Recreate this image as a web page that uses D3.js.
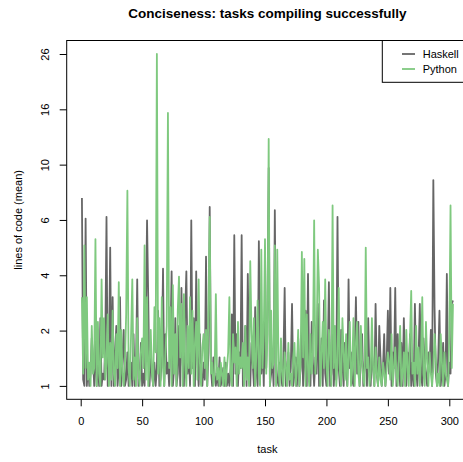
<!DOCTYPE html>
<html>
<head>
<meta charset="utf-8">
<title>Conciseness</title>
<script src="https://cdn.jsdelivr.net/npm/d3@7"></script>
<style>
  body { margin: 0; background: #fff; }
  text { font-family: "Liberation Sans", Arial, sans-serif; fill: #000; }
</style>
</head>
<body>
<svg id="chart" width="463" height="462"></svg>
<script>
// mean lines of code per task, task 1..303
var haskell = [
  7.7, 1.1, 1, 6.4, 1, 1.4, 1, 1.2, 1.9, 1.5,
  1, 2.0, 1, 1.4, 1, 2.4, 1, 1.2, 1.1, 1.8,
  6.5, 1, 1.5, 4.9, 1, 3.0, 1, 1.6, 2.2, 1,
  1.3, 3.0, 1, 1.5, 2.1, 1, 1.1, 1.6, 1, 1.2,
  1.4, 1, 2.0, 1, 1.3, 3.6, 1, 1.1, 1.8, 1,
  1.2, 1, 2.3, 6.3, 2.9, 1, 1.5, 1.2, 1, 1.4,
  1, 1.3, 2.6, 1, 1.1, 1.5, 4.0, 1, 2.0, 1.2,
  1.4, 1, 1.8, 3.9, 1, 1.3, 2.4, 1, 1.2, 2.2,
  1, 3.3, 1.4, 1, 2.5, 3.9, 1.2, 1.6, 1, 6.3,
  1.3, 2.4, 1, 3.9, 1.5, 1, 2.0, 1.2, 1, 1.4,
  1.1, 4.5, 1, 1.6, 7.1, 1.3, 1, 1.5, 1.2, 1,
  1.2, 1, 1.5, 1, 1.1, 1.3, 1, 1.4, 1, 1.2,
  1, 1.3, 2.5, 1, 5.5, 1.2, 2.0, 1, 1.6, 1.3,
  5.5, 1, 1.4, 2.2, 1, 3.8, 1.2, 1, 1.8, 1.4,
  1, 2.7, 1.3, 1, 5.2, 1.5, 1.2, 1.9, 1, 2.6,
  1.3, 2.7, 10.0, 1, 1.2, 1.5, 1, 6.9, 1.4, 1.1,
  1, 1.4, 1.2, 1, 1.5, 3.3, 1, 1.2, 1.6, 1,
  1.3, 2.8, 1, 1.2, 1.5, 1, 1.9, 1, 1.3, 2.2,
  1, 1.4, 2.6, 1, 3.8, 1.2, 1, 2.3, 1.4, 1,
  1.5, 1.2, 2.8, 1, 1.3, 1.9, 1, 2.9, 1.2, 1,
  1.4, 3.5, 1, 1.2, 2.0, 1, 1.5, 1.1, 6.5, 1.3,
  1, 2.1, 1.4, 1, 1.8, 1.2, 1, 3.6, 1.3, 1.6,
  1.1, 1, 1.5, 3.0, 1.2, 2.3, 1, 1.4, 2.0, 1,
  1.3, 1.8, 1, 2.4, 1.2, 1, 1.6, 1.3, 1, 2.8,
  1.2, 1, 2.2, 1.5, 1, 1.3, 2.0, 1, 1.4, 2.6,
  1.2, 3.3, 1, 1.6, 1.3, 3.3, 1, 2.0, 1.4, 1,
  1.8, 1, 2.4, 1.3, 1, 1.6, 1.2, 2.0, 1, 1.4,
  1, 2.8, 1.3, 1, 1.5, 2.8, 1.2, 1, 1.9, 1.4,
  1.2, 1, 1.6, 1.3, 2.1, 1, 9.0, 2.7, 1.2, 1,
  1.5, 2.6, 1, 1.3, 1.8, 1, 1.2, 3.8, 1, 1.4,
  1.2, 2.8, 2.9
];
var python = [
  3.0, 1.2, 5.0, 1.3, 3.0, 1.1, 1.4, 1, 2.2, 1.2,
  1.3, 5.3, 1, 2.3, 1.2, 1, 3.6, 1.5, 2.4, 1.1,
  1.4, 2.5, 1, 1.8, 1.1, 2.6, 1.2, 1, 2.0, 1.3,
  3.5, 1, 2.1, 1.2, 1, 1.4, 2.5, 8.2, 1.3, 1,
  2.0, 3.6, 1.1, 1.5, 1, 2.4, 1.2, 1, 1.6, 1.9,
  1.3, 5.0, 1.1, 3.0, 1, 1.4, 2.1, 1.2, 1, 2.7,
  1.6, 25.8, 1.2, 2.4, 1, 3.0, 1.3, 1, 1.6, 2.2,
  15.9, 1.3, 2.7, 1, 3.4, 1.2, 2.0, 1, 2.6, 3.7,
  1.5, 2.8, 1, 3.1, 1.4, 1, 2.2, 1.3, 3.0, 1.2,
  2.6, 1, 1.8, 2.3, 1.1, 3.6, 1.4, 1, 1.7, 2.0,
  1.3, 2.1, 1, 2.8, 6.5, 1.2, 1.4, 1, 1.2, 3.1,
  1.1, 1.3, 1, 1.4, 1.2, 1, 1.5, 1, 1.3, 1.6,
  3.0, 1.2, 1, 2.0, 1.4, 1.7, 1, 2.3, 1.2, 1.5,
  1.3, 1.8, 1, 2.2, 1.1, 1.5, 1, 4.3, 2.1, 1.3,
  2.4, 1, 1.6, 2.9, 1.2, 1, 4.8, 1.3, 2.0, 5.3,
  1.2, 2.0, 12.8, 1, 2.6, 1.3, 1.4, 5.0, 1, 4.8,
  1.3, 1, 1.9, 1.2, 1, 1.6, 1.3, 1, 1.8, 1.1,
  1.2, 1, 1.5, 1.8, 1, 1.3, 2.1, 1, 1.4, 4.7,
  1.5, 4.4, 1, 2.5, 1.3, 1, 2.0, 1.2, 1.6, 6.3,
  1.2, 1.8, 4.8, 3.4, 1, 1.5, 2.3, 1.3, 3.6, 1.4,
  1, 2.1, 1.6, 1, 7.2, 1.3, 2.2, 1, 1.4, 3.3,
  1.2, 1, 2.4, 1.6, 1.1, 2.0, 1, 1.5, 2.3, 1,
  1.3, 2.4, 1, 1.8, 2.3, 1.2, 1, 2.2, 1.4, 1.1,
  1, 4.9, 1.3, 1.5, 1, 1.2, 2.4, 1.3, 1, 1.7,
  1.2, 1, 1.5, 1.1, 1, 1.4, 1.2, 1, 1.3, 1.6,
  1.4, 1.1, 2.0, 1, 1.3, 1.7, 1.2, 1, 1.5, 2.2,
  1, 1.2, 1.6, 1, 2.1, 1.3, 1, 1.9, 3.2, 1.2,
  1.4, 1, 2.2, 1.2, 1.7, 1, 1.5, 3.0, 1.2, 1,
  2.3, 1.4, 1, 1.6, 1.2, 1, 1.3, 2.0, 1.5, 1,
  1.2, 1, 2.0, 1.4, 1, 1.6, 1.2, 1.1, 1, 2.0,
  7.2, 1.3, 2.8
];
var seriesNames = ["Haskell", "Python"];
var seriesColors = ["#666666", "#7fc97f"];
var xTicks = [0, 50, 100, 150, 200, 250, 300];

var svg = d3.select("#chart");
var box = { left: 66.7, right: 470, top: 40.5, bottom: 399.3 };

var x = d3.scaleLinear().domain([0, 300]).range([80.7, 449.3]);
var all = haskell.concat(python);
var y = d3.scaleSymlog().constant(1)
    .domain([d3.min(all), d3.max(all)])
    .range([385.9, 54]);

// seven evenly spaced ticks on the transformed axis
var yTicks = d3.range(7).map(function(k) {
    return y.invert(y.range()[0] + k * (y.range()[1] - y.range()[0]) / 6);
});

var line = d3.line()
    .x(function(d, i) { return x(i + 1); })
    .y(function(d) { return y(d); });

svg.selectAll(".series")
    .data([haskell, python])
    .enter().append("path")
    .attr("class", "series")
    .attr("d", line)
    .attr("fill", "none")
    .attr("stroke", function(d, i) { return seriesColors[i]; })
    .attr("stroke-width", 1.8)
    .attr("stroke-linejoin", "round");

// plot frame
svg.append("rect")
    .attr("x", box.left).attr("y", box.top)
    .attr("width", box.right - box.left).attr("height", box.bottom - box.top)
    .attr("fill", "none").attr("stroke", "#000").attr("stroke-width", 1);

// x axis
var xAxis = svg.append("g").attr("transform", "translate(0," + box.bottom + ")")
    .call(d3.axisBottom(x).tickValues(xTicks).tickSize(7).tickPadding(11).tickSizeOuter(0));
xAxis.select(".domain").remove();
xAxis.selectAll("text").attr("font-size", 11).attr("font-family", "Liberation Sans, Arial, sans-serif");

// y axis
var yAxis = svg.append("g").attr("transform", "translate(" + box.left + ",0)")
    .call(d3.axisLeft(y).tickValues(yTicks).tickSize(7).tickSizeOuter(0)
        .tickFormat(function(d) { return Math.round(d); }));
yAxis.select(".domain").remove();
yAxis.selectAll("text")
    .attr("font-size", 11)
    .attr("font-family", "Liberation Sans, Arial, sans-serif")
    .attr("text-anchor", "middle")
    .attr("x", null).attr("dy", null)
    .attr("transform", "translate(-22,0) rotate(-90)")
    .attr("dominant-baseline", "central");

// titles
svg.append("text")
    .attr("x", (box.left + box.right) / 2 - 1).attr("y", 18)
    .attr("text-anchor", "middle").attr("font-size", 13.5).attr("font-weight", "bold")
    .text("Conciseness: tasks compiling successfully");

svg.append("text")
    .attr("x", (box.left + box.right) / 2 - 1).attr("y", 453)
    .attr("text-anchor", "middle").attr("font-size", 11)
    .text("task");

svg.append("text")
    .attr("transform", "translate(18," + (box.top + box.bottom) / 2 + ") rotate(-90)")
    .attr("text-anchor", "middle").attr("dominant-baseline", "central").attr("font-size", 11)
    .text("lines of code (mean)");

// legend
var legend = svg.append("g");
legend.append("rect")
    .attr("x", 382.3).attr("y", box.top)
    .attr("width", box.right - 382.3).attr("height", 82.3 - box.top)
    .attr("fill", "#fff").attr("stroke", "#000").attr("stroke-width", 1);
var items = legend.selectAll(".item")
    .data(seriesNames)
    .enter().append("g")
    .attr("class", "item")
    .attr("transform", function(d, i) { return "translate(0," + (54 + i * 15) + ")"; });
items.append("line")
    .attr("x1", 402).attr("x2", 415)
    .attr("stroke", function(d, i) { return seriesColors[i]; })
    .attr("stroke-width", 1.8);
items.append("text")
    .attr("x", 422.7).attr("dominant-baseline", "central").attr("font-size", 11)
    .text(function(d) { return d; });
</script>
</body>
</html>
